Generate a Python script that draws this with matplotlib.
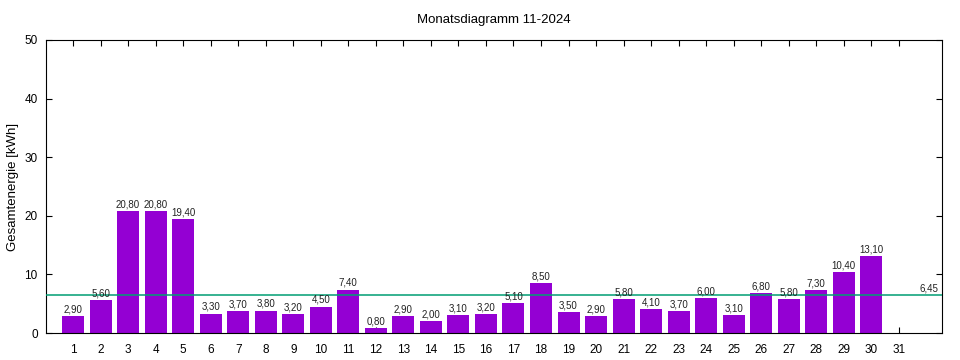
import matplotlib
matplotlib.use('Agg')
import matplotlib.pyplot as plt
import numpy as np

plt.rcParams['font.family'] = ['Liberation Sans', 'DejaVu Sans']

days = list(range(1, 32))
values = [2.9, 5.6, 20.8, 20.8, 19.4, 3.3, 3.7, 3.8, 3.2, 4.5,
          7.4, 0.8, 2.9, 2.0, 3.1, 3.2, 5.1, 8.5, 3.5, 2.9,
          5.8, 4.1, 3.7, 6.0, 3.1, 6.8, 5.8, 7.3, 10.4, 13.1]
average = 6.45

fig = plt.figure(figsize=(9.6, 3.6), dpi=100)
ax = fig.add_axes([0.048, 0.075, 0.933, 0.814])

x = np.arange(1, len(values) + 1)
ax.bar(x, values, width=0.8, color='#9400d3', zorder=2)
for xi, v in zip(x, values):
    ax.text(xi, v + 0.3, ('%.2f' % v).replace('.', ','), ha='center', va='bottom',
            fontsize=7, color='#222222', zorder=4)

# average line over the bars
ax.axhline(average, color='#009e73', lw=1.1, zorder=3)
ax.text(32.1, average + 0.3, ('%.2f' % average).replace('.', ','), ha='center',
        va='bottom', fontsize=7, color='#222222')

ax.set_xlim(0.02, 32.56)
ax.set_ylim(0, 50)
ax.set_xticks(days)
ax.set_yticks([0, 10, 20, 30, 40, 50])
ax.tick_params(direction='in', top=True, right=True, labelsize=8.5, length=4, pad=8)
ax.tick_params(axis='y', pad=6)
ax.set_ylabel('Gesamtenergie [kWh]', fontsize=9.5)
ax.set_title('Monatsdiagramm 11-2024', fontsize=9.5, pad=12)

plt.savefig('out.png', dpi=100)
